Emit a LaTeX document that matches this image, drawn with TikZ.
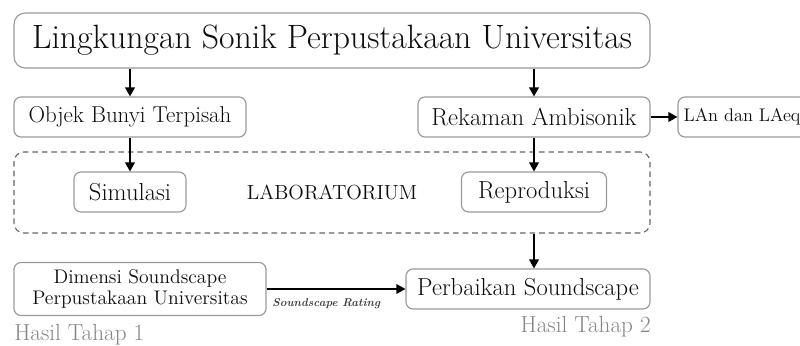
\documentclass[tikz,border=0pt]{standalone}
\usetikzlibrary{arrows.meta}

\begin{document}
\begin{tikzpicture}[box/.style = {rectangle,draw=black!40,line width=.8pt,rounded corners=5pt,text=black!95,minimum height=1cm,inner sep=0pt,font=\fontsize{17.5}{21}\selectfont},
arr/.style = {-{Triangle[length=6.5pt,width=7pt]},line width=1.1pt},
hasil/.style = {text=black!48,inner sep=0pt,font=\fontsize{16.5}{20}\selectfont},]

\useasboundingbox (0,0) rectangle (20,-8.625);

\node[box,minimum width=15.9cm,minimum height=1.375cm,rounded corners=8pt,font=\fontsize{24}{28}\selectfont] (title) at (8.3,-1.0125) {Lingkungan Sonik Perpustakaan Universitas};

\node[box,minimum width=5.8cm,font=\fontsize{16.3}{20}\selectfont] (obj) at (3.25,-2.925) {Objek Bunyi Terpisah};
\node[box,minimum width=5.8cm] (rek) at (13.35,-2.925) {Rekaman Ambisonik};
\node[box,minimum width=3.2cm,font=\fontsize{13}{16}\selectfont] (lan) at (18.55,-2.925) {LAn dan LAeq};

\node[rectangle,draw=black!60,line width=.8pt,dash pattern=on 4pt off 2.8pt,rounded corners=7pt,minimum width=15.9cm,minimum height=2.025cm,inner sep=0pt,text=black!95,font=\fontsize{14.5}{17}\selectfont] (lab) at (8.3,-4.8125) {LABORATORIUM};
\node[box,minimum width=2.8cm] (sim) at (3.25,-4.8) {Simulasi};
\node[box,minimum width=3.625cm] (rep) at (13.35,-4.8) {Reproduksi};

\node[box,minimum width=6.3cm,minimum height=1.325cm,align=center,font=\fontsize{14}{15}\selectfont] (dim) at (3.5,-7.225) {Dimensi Soundscape\\Perpustakaan Universitas};
\node[box,minimum width=6.1cm] (perb) at (13.2,-7.225) {Perbaikan Soundscape};

\node[hasil,anchor=west] (hasil1) at (0.35,-8.375) {Hasil Tahap 1};
\node[hasil,anchor=east] (hasil2) at (16.275,-8.175) {Hasil Tahap 2};

\draw[arr] (title.south -| obj.north) -- (obj.north);
\draw[arr] (title.south -| rek.north) -- (rek.north);
\draw[arr] (rek) -- (lan);
\draw[arr] (obj) -- (sim);
\draw[arr] (rek) -- (rep);
\draw[arr] (rep |- lab.south) -- (rep |- perb.north);
\draw[arr] (dim) -- (perb) node[pos=.43,below=3pt,text=black!75,font=\fontsize{8.1}{10}\selectfont\bfseries\itshape] (rating) {Soundscape Rating};

\end{tikzpicture}
\end{document}
